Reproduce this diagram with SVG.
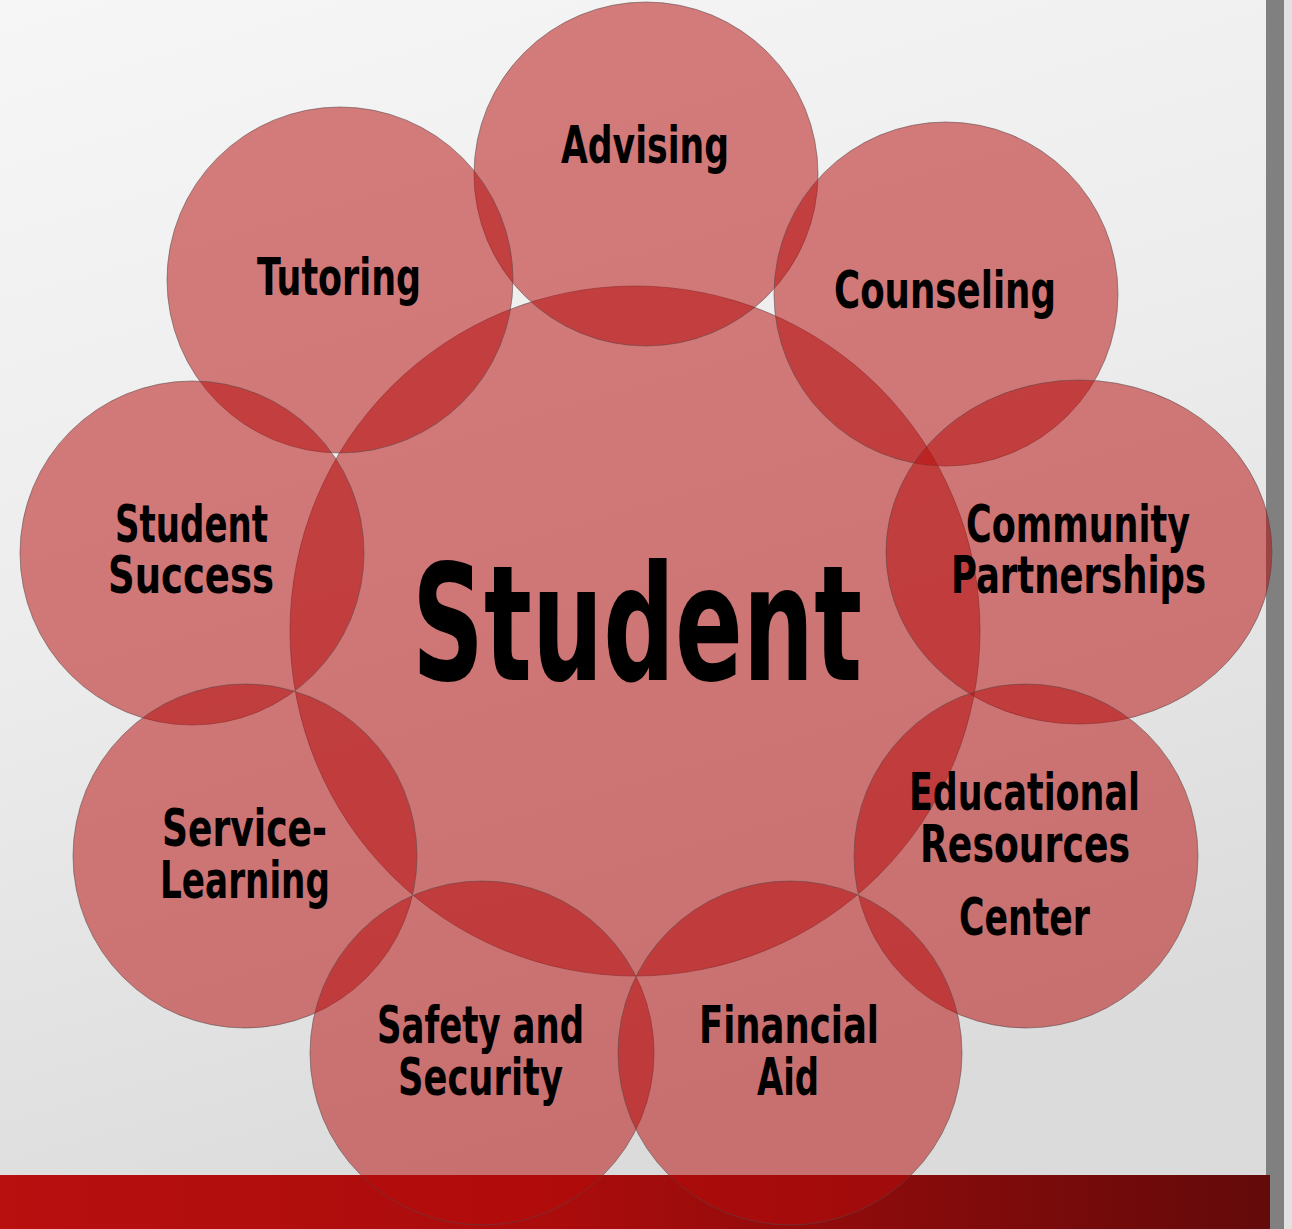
<svg xmlns="http://www.w3.org/2000/svg" width="1292" height="1229" viewBox="0 0 1292 1229">
  <defs>
    <linearGradient id="bg" x1="0" y1="0" x2="0.3" y2="1">
      <stop offset="0" stop-color="#f6f6f6"/>
      <stop offset="0.5" stop-color="#ececec"/>
      <stop offset="1" stop-color="#dbdbdb"/>
    </linearGradient>
    <linearGradient id="bar" x1="0" y1="0" x2="1" y2="0">
      <stop offset="0" stop-color="#b80f0f"/>
      <stop offset="0.45" stop-color="#aa0c0c"/>
      <stop offset="1" stop-color="#630a0a"/>
    </linearGradient>
    <style>
      .c { fill: rgb(183,12,12); fill-opacity: 0.52; stroke: #5a4545; stroke-opacity: 0.55; stroke-width: 1; }
      .t { font-family: 'Liberation Sans Narrow', 'DejaVu Sans Condensed', 'Liberation Sans', sans-serif; font-weight: bold; font-size: 52px; fill: #000; }
      .big { font-size: 160px; }
    </style>
  </defs>

  <rect x="0" y="0" width="1292" height="1229" fill="url(#bg)"/>
  <rect x="1266" y="0" width="18" height="1229" fill="#808080"/>
  <rect x="1284" y="0" width="8" height="1229" fill="#e2e2e2"/>
  <rect x="0" y="1175" width="1270" height="54" fill="url(#bar)"/>

  <g id="connectors"/>

  <g id="student">
    <circle class="c" cx="635" cy="631" r="345"/>
    <text class="t big" x="412" y="680" textLength="450" lengthAdjust="spacingAndGlyphs">Student</text>
  </g>
  <g id="advising">
    <circle class="c" cx="646" cy="174" r="172"/>
    <text class="t" x="561" y="163" textLength="168" lengthAdjust="spacingAndGlyphs">Advising</text>
  </g>
  <g id="tutoring">
    <circle class="c" cx="340" cy="280" r="173"/>
    <text class="t" x="257" y="295" textLength="164" lengthAdjust="spacingAndGlyphs">Tutoring</text>
  </g>
  <g id="counseling">
    <circle class="c" cx="946" cy="294" r="172"/>
    <text class="t" x="834" y="308" textLength="222" lengthAdjust="spacingAndGlyphs">Counseling</text>
  </g>
  <g id="student-success">
    <circle class="c" cx="192" cy="553" r="172"/>
    <text class="t" x="115" y="542" textLength="153" lengthAdjust="spacingAndGlyphs">Student</text>
    <text class="t" x="108" y="593" textLength="166" lengthAdjust="spacingAndGlyphs">Success</text>
  </g>
  <g id="community-partnerships">
    <ellipse class="c" cx="1079" cy="552" rx="193" ry="172"/>
    <text class="t" x="966" y="542" textLength="224" lengthAdjust="spacingAndGlyphs">Community</text>
    <text class="t" x="951" y="593" textLength="255" lengthAdjust="spacingAndGlyphs">Partnerships</text>
  </g>
  <g id="educational-resources-center">
    <circle class="c" cx="1026" cy="856" r="172"/>
    <text class="t" x="909" y="810" textLength="231" lengthAdjust="spacingAndGlyphs">Educational</text>
    <text class="t" x="920" y="862" textLength="210" lengthAdjust="spacingAndGlyphs">Resources</text>
    <text class="t" x="959" y="935" textLength="131" lengthAdjust="spacingAndGlyphs">Center</text>
  </g>
  <g id="service-learning">
    <circle class="c" cx="245" cy="856" r="172"/>
    <text class="t" x="162" y="846" textLength="165" lengthAdjust="spacingAndGlyphs">Service-</text>
    <text class="t" x="160" y="898" textLength="170" lengthAdjust="spacingAndGlyphs">Learning</text>
  </g>
  <g id="safety-security">
    <circle class="c" cx="482" cy="1053" r="172"/>
    <text class="t" x="377" y="1043" textLength="207" lengthAdjust="spacingAndGlyphs">Safety and</text>
    <text class="t" x="398" y="1095" textLength="165" lengthAdjust="spacingAndGlyphs">Security</text>
  </g>
  <g id="financial-aid">
    <circle class="c" cx="790" cy="1053" r="172"/>
    <text class="t" x="699" y="1043" textLength="180" lengthAdjust="spacingAndGlyphs">Financial</text>
    <text class="t" x="757" y="1095" textLength="62" lengthAdjust="spacingAndGlyphs">Aid</text>
  </g>
</svg>
